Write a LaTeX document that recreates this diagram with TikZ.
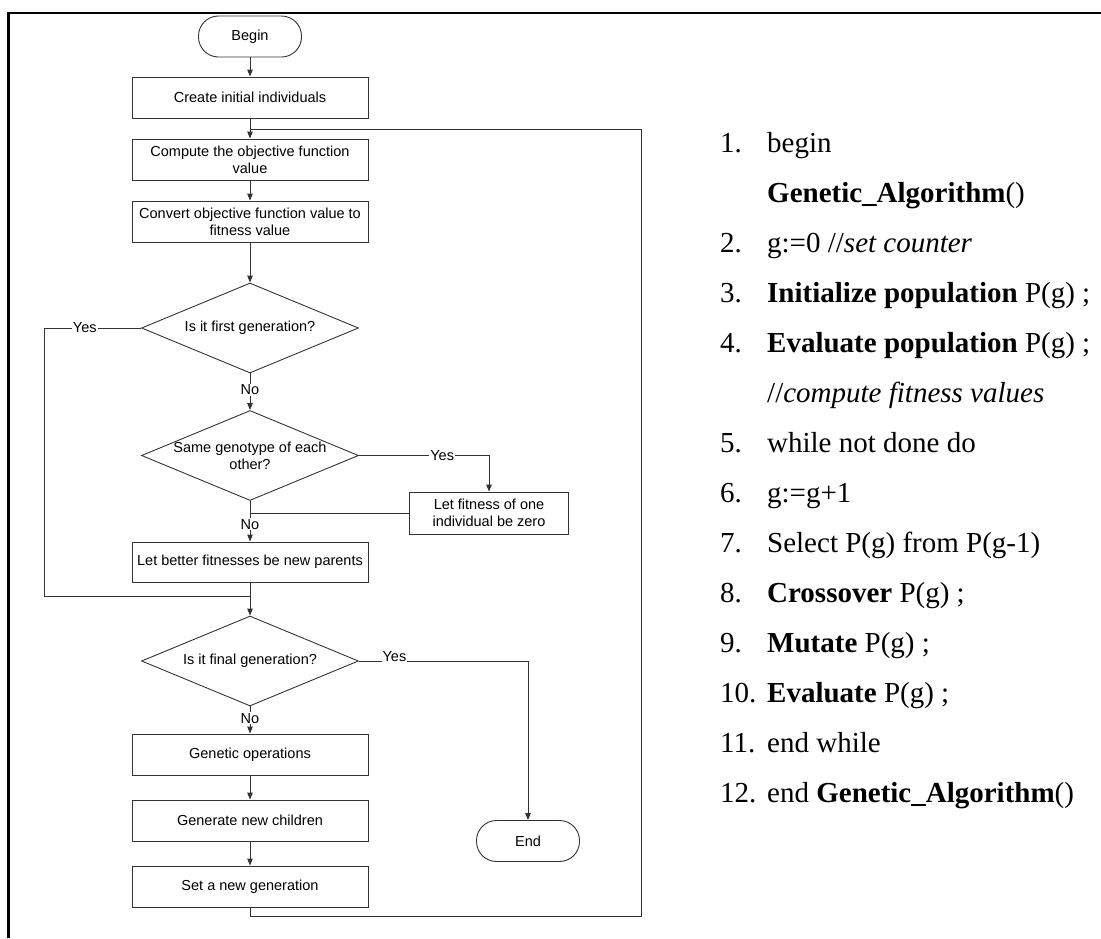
\documentclass[tikz,border=0pt]{standalone}
\usepackage{fontspec}
\usepackage{tikz}
\usetikzlibrary{shapes.geometric,arrows.meta}
\setmainfont{Liberation Serif}
\newfontfamily\chartfont{Liberation Sans}
\newcommand{\charttext}{\chartfont\fontsize{14.5}{17}\selectfont}
\newcommand{\listtext}{\fontsize{29}{34}\selectfont}

\tikzset{
  flowline/.style={draw=black!80, line width=0.9pt},
  flowarrow/.style={flowline, -{Triangle[length=7pt,width=5.5pt]}},
  procbox/.style={draw=black!80, line width=0.9pt, minimum width=236pt,
                  minimum height=41pt, inner sep=2pt, align=center, font=\charttext},
  terminal/.style={draw=black!80, line width=0.9pt, rounded corners=20pt,
                   minimum width=103pt, minimum height=41pt, font=\charttext},
  decision/.style={draw=black!80, line width=0.9pt, diamond, inner sep=0pt,
                   minimum width=217pt, minimum height=90pt,
                   label={[font=\charttext, align=center]center:#1}},
  answer/.style={font=\charttext, fill=white, inner sep=1pt},
  listline/.style={anchor=base west, inner sep=0pt, font=\listtext},
}

\begin{document}
\begin{tikzpicture}[x=1pt, y=-1pt]
\useasboundingbox (0,0) rectangle (1101,938);
% frame
\draw[line width=2.5pt] (8.5,938) -- (8.5,13) -- (1101,13);

% flow chart
\node[terminal] (begin) at (250,36.5) {Begin};
\node[procbox] (create) at (250,97.5) {Create initial individuals};
\node[procbox] (compute) at (250,159.5) {Compute the objective function\\value};
\node[procbox] (convert) at (250,221.5) {Convert objective function value to\\fitness value};
\node[decision={Is it first generation?}] (first) at (250,328) {};
\node[decision={Same genotype of each\\other?}] (same) at (250,455.5) {};
\node[procbox, minimum width=159pt, minimum height=42pt] (zero) at (489,513) {Let fitness of one\\individual be zero};
\node[procbox, minimum height=40pt] (better) at (250,562) {Let better fitnesses be new parents};
\node[decision={Is it final generation?}] (final) at (250,661) {};
\node[procbox] (genetic) at (250,754.5) {Genetic operations};
\node[procbox] (children) at (250,820.5) {Generate new children};
\node[procbox] (newgen) at (250,886.5) {Set a new generation};
\node[terminal] (end) at (528,841) {End};

\coordinate (loopin) at (250,129);
\coordinate (merge) at (250,596);
\coordinate (leftrail) at (44,596);
\coordinate (reset) at (250,513);
\coordinate (loopcorner) at (641,916);

\draw[flowarrow] (begin) -- (create);
\draw[flowarrow] (create) -- (compute);
\draw[flowarrow] (compute) -- (convert);
\draw[flowarrow] (convert) -- (first);
\draw[flowarrow] (first) -- node[answer, pos=0.45] {No} (same);
\draw[flowline] (first.west) -| node[answer, pos=0.29] {Yes} (leftrail) -- (merge);
\draw[flowarrow] (same.east) -| node[answer, pos=0.32] {Yes} (zero.north);
\draw[flowline] (zero.west) -- (reset);
\draw[flowarrow] (same) -- node[answer, pos=0.57] {No} (better);
\draw[flowarrow] (better) -- (final);
\draw[flowarrow] (final.east) -| node[answer, anchor=base, pos=0.105] {Yes} (end.north);
\draw[flowarrow] (final) -- node[answer, pos=0.43] {No} (genetic);
\draw[flowarrow] (genetic) -- (children);
\draw[flowarrow] (children) -- (newgen);
\draw[flowline] (newgen.south) |- (loopcorner) |- (loopin);

% pseudo code
\foreach \num/\step [count=\i from 0] in {
  1./begin,
  /{\textbf{Genetic\_Algorithm}()},
  2./{g:=0 //\textit{set counter}},
  3./{\textbf{Initialize population} P(g) ;},
  4./{\textbf{Evaluate population} P(g) ;},
  /{//\textit{compute fitness values}},
  5./{while not done do},
  6./{g:=g+1},
  7./{Select P(g) from P(g-1)},
  8./{\textbf{Crossover} P(g) ;},
  9./{\textbf{Mutate} P(g) ;},
  10./{\textbf{Evaluate} P(g) ;},
  11./{end while},
  12./{end \textbf{Genetic\_Algorithm}()}}
  \node[listline] (line\i) at (720,152+50*\i) {\makebox[47pt][l]{\num}\step};
\end{tikzpicture}
\end{document}
